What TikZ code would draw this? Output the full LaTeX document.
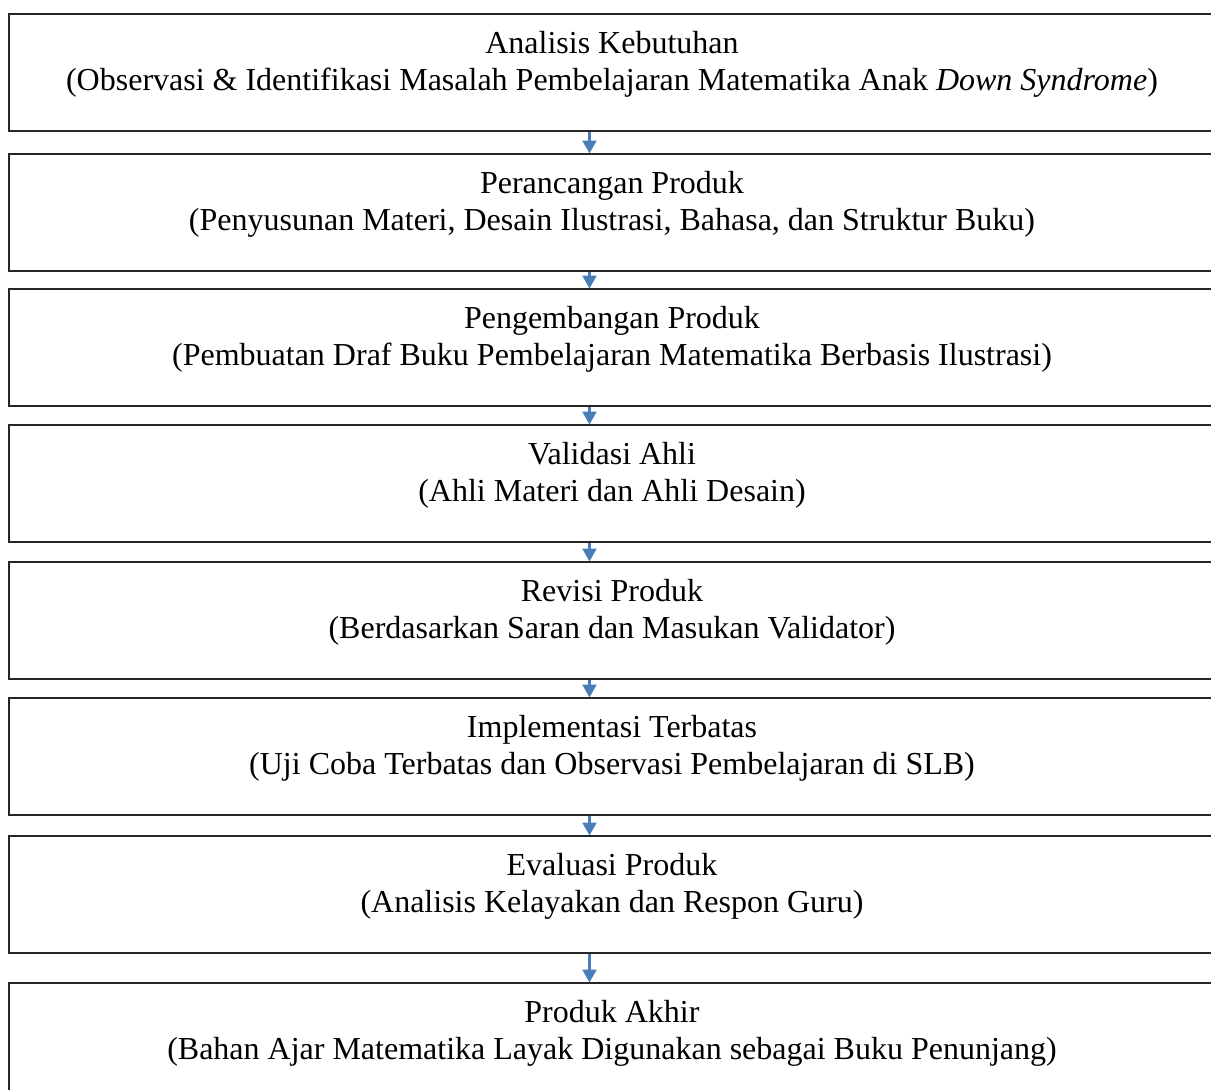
\documentclass[tikz,border=0pt]{standalone}
\usepackage{fontspec}
\setmainfont{Liberation Serif}
\usetikzlibrary{arrows.meta}
\definecolor{arrowblue}{RGB}{74,126,187}
\tikzset{
  stagebox/.style={draw=black!85, line width=1.8pt, minimum width=1208pt, minimum height=117pt, inner sep=0pt, anchor=north west},
  stagetext/.style={align=center, anchor=base, inner sep=0pt, font=\fontsize{32}{36.8}\selectfont},
  flowarrow/.style={draw=arrowblue, line width=2.6pt, -{Triangle[width=14pt,length=13pt]}, shorten >=-0.5pt}
}
\begin{document}
\begin{tikzpicture}[x=1pt,y=-1pt]
\useasboundingbox (0,0) rectangle (1211,1090);
\clip (0,0) rectangle (1211,1090);
\coordinate (ax) at (589.5,0);
\node[stagebox] (b1) at (8,13) {};
\node[stagebox] (b2) at (8,153) {};
\node[stagebox] (b3) at (8,288) {};
\node[stagebox] (b4) at (8,424) {};
\node[stagebox] (b5) at (8,561) {};
\node[stagebox] (b6) at (8,697) {};
\node[stagebox] (b7) at (8,835) {};
\node[stagebox] (b8) at (8,982) {};
\node[stagetext] (t1) at (612,90) {Analisis Kebutuhan\\(Observasi \& Identifikasi Masalah Pembelajaran Matematika Anak \textit{Down Syndrome})};
\node[stagetext] (t2) at (612,230) {Perancangan Produk\\(Penyusunan Materi, Desain Ilustrasi, Bahasa, dan Struktur Buku)};
\node[stagetext] (t3) at (612,365) {Pengembangan Produk\\(Pembuatan Draf Buku Pembelajaran Matematika Berbasis Ilustrasi)};
\node[stagetext] (t4) at (612,501) {Validasi Ahli\\(Ahli Materi dan Ahli Desain)};
\node[stagetext] (t5) at (612,638) {Revisi Produk\\(Berdasarkan Saran dan Masukan Validator)};
\node[stagetext] (t6) at (612,774) {Implementasi Terbatas\\(Uji Coba Terbatas dan Observasi Pembelajaran di SLB)};
\node[stagetext] (t7) at (612,912) {Evaluasi Produk\\(Analisis Kelayakan dan Respon Guru)};
\node[stagetext] (t8) at (612,1059) {Produk Akhir\\(Bahan Ajar Matematika Layak Digunakan sebagai Buku Penunjang)};
\foreach \a/\b in {b1/b2,b2/b3,b3/b4,b4/b5,b5/b6,b6/b7,b7/b8}
  \draw[flowarrow] (\a.south -| ax) -- (\b.north -| ax);
\end{tikzpicture}
\end{document}
